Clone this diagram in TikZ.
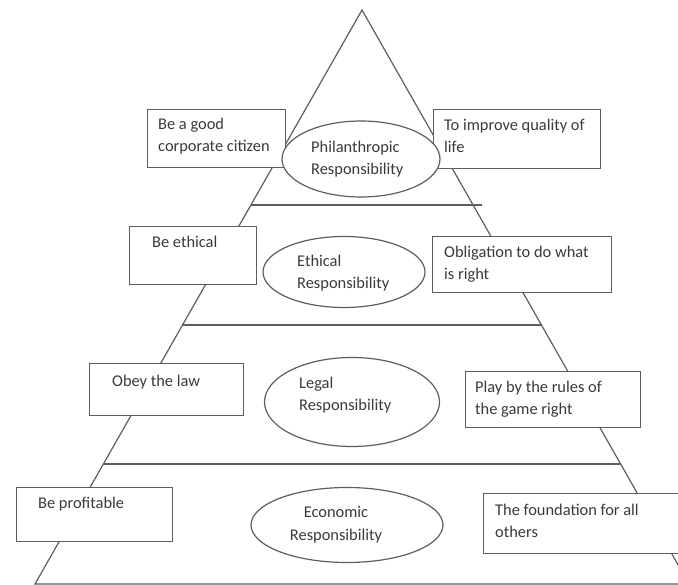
\documentclass[tikz,border=0pt]{standalone}
\usepackage{fontspec}
\setmainfont{Carlito}
\usetikzlibrary{shapes.geometric}
\definecolor{ln}{HTML}{5E5E5E}
\definecolor{tx}{HTML}{3A3A3A}
\newcommand\llines[1]{\vtop{\halign{##\hfil\cr#1\crcr}}}
\newcommand\clines[1]{\vtop{\halign{\hfil##\hfil\cr#1\crcr}}}
\begin{document}
\begin{tikzpicture}[x=1pt,y=-1pt,
  box/.style={draw=ln, line width=1.2pt, fill=white, anchor=north west, inner sep=0pt, rectangle},
  oval/.style={draw=ln, line width=1.2pt, fill=white, ellipse, inner sep=0pt},
  lbl/.style={anchor=base west, text=tx, font=\fontsize{16.4}{22}\selectfont, inner sep=0pt},
  clbl/.style={anchor=base, text=tx, font=\fontsize{16.4}{22}\selectfont, inner sep=0pt},
  edgeline/.style={draw=ln, line width=1.2pt}]
\clip (0,0) rectangle (678,585);
\fill[white] (0,0) rectangle (678,585);
% pyramid
\coordinate (apex) at (362,10);
\coordinate (bl) at (35,584);
\coordinate (br) at (689,584);
\draw[edgeline, line join=miter] (bl) -- (apex) -- (br) -- cycle;
\coordinate (h1l) at (251,205); \coordinate (h1r) at (482,205);
\coordinate (h2l) at (182,325); \coordinate (h2r) at (542,325);
\coordinate (h3l) at (103,464); \coordinate (h3r) at (621,464);
\draw[edgeline] (h1l) -- (h1r);
\draw[edgeline] (h2l) -- (h2r);
\draw[edgeline] (h3l) -- (h3r);
% boxes
\node[box, minimum width=138pt, minimum height=58pt] (b1) at (147,109) {};
\node[box, minimum width=167pt, minimum height=59pt] (b2) at (433,109) {};
\node[box, minimum width=127pt, minimum height=58pt] (b3) at (129,226) {};
\node[box, minimum width=179pt, minimum height=56pt] (b4) at (432,236) {};
\node[box, minimum width=154pt, minimum height=52pt] (b5) at (89,363) {};
\node[box, minimum width=175pt, minimum height=56pt] (b6) at (465,371) {};
\node[box, minimum width=156pt, minimum height=54pt] (b7) at (16,487) {};
\node[box, minimum width=220pt, minimum height=60pt] (b8) at (483,493) {};
% ellipses
\node[oval, minimum width=158pt, minimum height=76pt] (e1) at (361,159) {};
\node[oval, minimum width=162pt, minimum height=71pt] (e2) at (344,272) {};
\node[oval, minimum width=175pt, minimum height=89pt] (e3) at (352,402) {};
\node[oval, minimum width=192pt, minimum height=75pt] (e4) at (347,525) {};
% texts
\node[lbl] (t1) at (158,130) {\llines{Be a good\cr corporate citizen}};
\node[lbl] (t2) at (444,131) {\llines{To improve quality of\cr life}};
\node[lbl] (t3) at (152,248) {Be ethical};
\node[lbl] (t4) at (444,258) {\llines{Obligation to do what\cr is right}};
\node[lbl] (t5) at (112,387) {Obey the law};
\node[lbl] (t6) at (475,393) {\llines{Play by the rules of\cr the game right}};
\node[lbl] (t7) at (38,508) {Be profitable};
\node[lbl] (t8) at (495,515) {\llines{The foundation for all\cr others}};
\node[lbl] (l1) at (311,153) {\llines{Philanthropic\cr Responsibility}};
\node[lbl] (l2) at (297,267) {\llines{Ethical\cr Responsibility}};
\node[lbl] (l3) at (299,389) {\llines{Legal\cr Responsibility}};
\node[clbl] (l4) at (336,518) {\clines{Economic\cr Responsibility}};
\end{tikzpicture}
\end{document}
